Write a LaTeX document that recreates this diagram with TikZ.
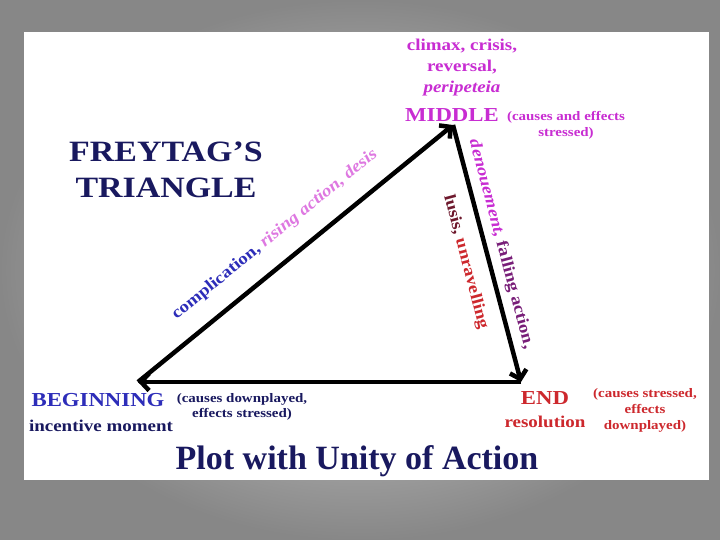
\documentclass[tikz,border=0pt]{standalone}
\usepackage{fontspec}
\setmainfont{Liberation Serif}[FakeStretch=1.15]
\newfontfamily\titlefont{Liberation Serif}
\usetikzlibrary{positioning,arrows.meta}

\definecolor{navytxt}{RGB}{25,25,95}
\definecolor{begblue}{RGB}{45,45,185}
\definecolor{midmag}{RGB}{200,45,210}
\definecolor{risepink}{RGB}{222,120,225}
\definecolor{fallpurp}{RGB}{120,30,120}
\definecolor{lusisred}{RGB}{110,25,45}
\definecolor{endred}{RGB}{205,40,45}

\begin{document}
\begin{tikzpicture}[x=1pt, y=-1pt,
  every node/.style={inner sep=1pt, align=center},
  keyword/.style={font=\bfseries\fontsize{19.8}{22}\selectfont},
  gloss/.style={font=\bfseries\fontsize{16.5}{21}\selectfont},
  note/.style={font=\bfseries\fontsize{13}{16}\selectfont},
  plotline/.style={line width=4.5pt, -{Straight Barb[length=8pt,width=17pt]}}]
  % slide background and white panel
  \shade[inner color=black!15, outer color=black!47] (0,0) rectangle (720,540);
  \fill[white] (24,32) rectangle (709,480);

  \coordinate (beg) at (138,382);
  \coordinate (mid) at (453,125);
  \coordinate (fin) at (521,382);

  \node[font=\bfseries\fontsize{29.5}{36}\selectfont, text=navytxt] (name) at (166,170)
    {FREYTAG'S\\TRIANGLE};

  \node[keyword, text=midmag] (middle) at (452,115) {MIDDLE};
  \node[gloss, text=midmag] (climax) at (462,68)
    {climax, crisis,\\reversal,\\\textit{peripeteia}};
  \node[note, text=midmag] (midnote) at (566,125) {(causes and effects\\stressed)};

  \node[keyword, text=begblue] (begin) at (98,400) {BEGINNING};
  \node[gloss, text=navytxt] (incent) at (101,426) {incentive moment};
  \node[note, text=navytxt, font=\bfseries\fontsize{13}{15.5}\selectfont] (begnote) at (242,407)
    {(causes downplayed,\\effects stressed)};

  \node[keyword, text=endred] (ending) at (545,398) {END};
  \node[gloss, text=endred] (resol) at (545,422) {resolution};
  \node[note, text=endred] (endnote) at (645,410)
    {(causes stressed,\\effects\\downplayed)};

  \node[font=\titlefont\bfseries\fontsize{34}{36}\selectfont, text=navytxt] (title) at (357,461)
    {Plot with Unity of Action};

  \draw[plotline] (beg) -- node[pos=0.49, sloped, above=17pt, gloss]
    {{\color{begblue}complication,} {\color{risepink}\itshape rising action, desis}} (mid);
  \draw[plotline] (mid) --
    node[pos=0.48, sloped, above=5pt, gloss]
      {{\color{midmag}\itshape denouement,} {\color{fallpurp}falling action,}}
    node[pos=0.51, sloped, below=12pt, gloss]
      {{\color{lusisred}lusis,} {\color{endred}unravelling}} (fin);
  \draw[plotline] (fin) -- (beg);
\end{tikzpicture}
\end{document}
